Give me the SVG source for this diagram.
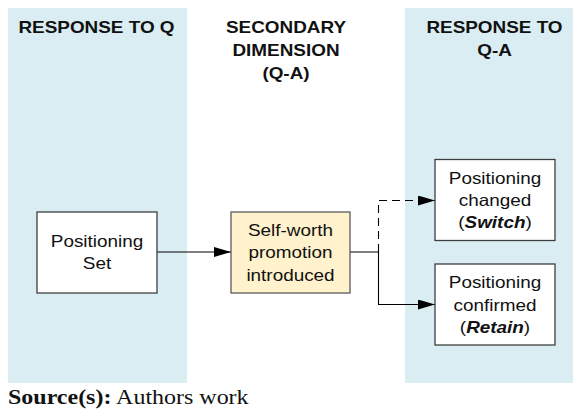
<svg xmlns="http://www.w3.org/2000/svg" width="573" height="410" viewBox="0 0 573 410">
<style>
.panel{fill:#daedf3;stroke:none}
.box{fill:#ffffff;stroke:#3f3f3f;stroke-width:1.3}
.hl{fill:#fff2cc;stroke:#5a5a5a;stroke-width:1.3}
.t{font-family:"Liberation Sans",Arial,sans-serif;font-size:16.3px;fill:#111;text-anchor:middle}
.h{font-family:"Liberation Sans",Arial,sans-serif;font-size:16.3px;font-weight:bold;fill:#111;text-anchor:middle}
.bi{font-weight:bold;font-style:italic}
.c{fill:none;stroke:#000;stroke-width:1.1}
.d{stroke-dasharray:8,5}
.src{font-family:"Liberation Serif","Times New Roman",serif;font-size:20.5px;fill:#111}
</style>
<defs>
<marker id="ah" markerUnits="userSpaceOnUse" markerWidth="17" markerHeight="11" refX="17" refY="5" orient="auto">
<path d="M0,0 L17,5 L0,10 z" fill="#000"/>
</marker>
</defs>
<rect width="573" height="410" fill="#ffffff"/>
<g id="panel-q">
<rect class="panel" x="8" y="8" width="179" height="375"/>
<text class="h" transform="matrix(1.16,0,0,1,96.5,0)"><tspan x="0" y="33.3">RESPONSE TO Q</tspan></text>
</g>
<g id="header-secondary">
<text class="h" transform="matrix(1.16,0,0,1,286,0)"><tspan x="0" y="33.3">SECONDARY</tspan><tspan x="0" y="56">DIMENSION</tspan><tspan x="0" y="78.7">(Q-A)</tspan></text>
</g>
<g id="panel-qa">
<rect class="panel" x="405" y="8" width="168" height="375"/>
<text class="h" transform="matrix(1.16,0,0,1,494.5,0)"><tspan x="0" y="33.3">RESPONSE TO</tspan><tspan x="0" y="56">Q-A</tspan></text>
</g>
<g id="connectors">
<line class="c" x1="157" y1="252" x2="231" y2="252" marker-end="url(#ah)"/>
<polyline class="c" points="350,252 378.5,252 378.5,304.5 435,304.5" marker-end="url(#ah)"/>
<polyline class="c d" points="378.5,252 378.5,200.5 435,200.5" marker-end="url(#ah)"/>
</g>
<g id="node-positioning-set">
<rect class="box" x="37" y="212" width="120" height="81"/>
<text class="t" transform="matrix(1.16,0,0,1,97,0)"><tspan x="0" y="246.7">Positioning</tspan><tspan x="0" y="269.3">Set</tspan></text>
</g>
<g id="node-self-worth">
<rect class="hl" x="231" y="212" width="119" height="81"/>
<text class="t" transform="matrix(1.16,0,0,1,290.5,0)"><tspan x="0" y="236">Self-worth</tspan><tspan x="0" y="258.5">promotion</tspan><tspan x="0" y="281.5">introduced</tspan></text>
</g>
<g id="node-switch">
<rect class="box" x="435" y="159.5" width="120" height="81"/>
<text class="t" transform="matrix(1.16,0,0,1,495,0)"><tspan x="0" y="184.3">Positioning</tspan><tspan x="0" y="206.3">changed</tspan><tspan x="0" y="228.5">(<tspan class="bi">Switch</tspan>)</tspan></text>
</g>
<g id="node-retain">
<rect class="box" x="435" y="264" width="120" height="81"/>
<text class="t" transform="matrix(1.16,0,0,1,495,0)"><tspan x="0" y="288.3">Positioning</tspan><tspan x="0" y="310.7">confirmed</tspan><tspan x="0" y="333.3">(<tspan class="bi">Retain</tspan>)</tspan></text>
</g>
<g id="source">
<text class="src" transform="matrix(1.17,0,0,1,8,0)" x="0" y="404"><tspan font-weight="bold">Source(s):</tspan> Authors work</text>
</g>
</svg>
